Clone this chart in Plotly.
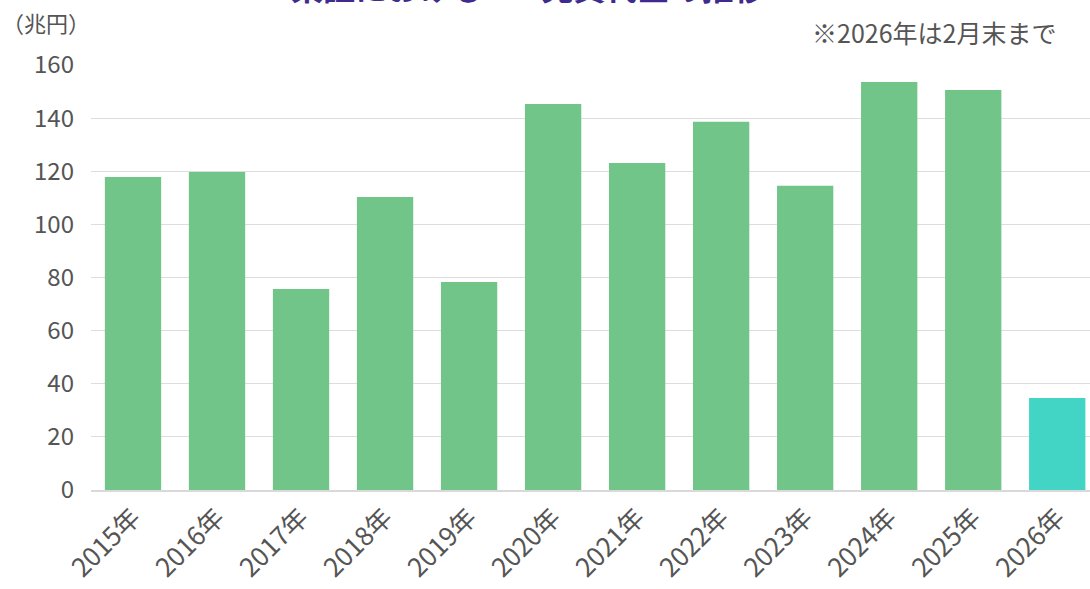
import plotly.graph_objects as go

years = ['2015年', '2016年', '2017年', '2018年', '2019年', '2020年',
         '2021年', '2022年', '2023年', '2024年', '2025年', '2026年']
values = [117.8, 119.7, 75.7, 110.3, 78.3, 145.3, 123.1, 138.6, 114.5, 153.6, 150.6, 34.6]
colors = ['#72c588'] * 11 + ['#42d4c4']

font = 'Noto Sans CJK JP'

fig = go.Figure(go.Bar(x=years, y=values, marker_color=colors,
                       marker_line_width=0, hoverinfo='x+y'))

fig.update_layout(
    width=1090, height=589,
    margin=dict(l=91, r=0, t=65, b=99),
    plot_bgcolor='white', paper_bgcolor='white',
    bargap=0.33, showlegend=False,
    font=dict(family=font, color='#555555', size=20),
    xaxis=dict(tickangle=-45, tickfont=dict(size=26, color='#555555'),
               range=[-0.5, 11.39],
               showline=True, linecolor='#d9d9d9', linewidth=2, ticks=''),
    yaxis=dict(range=[0, 160], dtick=20, gridcolor='#dddddd', gridwidth=1,
               zeroline=False, tickfont=dict(size=24, color='#555555'),
               ticklabelstandoff=16),
    annotations=[
        dict(text='東証におけるETF売買代金の推移', xref='paper', yref='paper',
             x=0.437, y=1.127, xanchor='center', yanchor='bottom', showarrow=False,
             font=dict(size=32, color='#3f2a8e', family=font, weight='bold')),
        dict(text='（兆円）', xref='paper', yref='paper', x=-0.091, y=1.10,
             xanchor='left', yanchor='middle', showarrow=False,
             font=dict(size=22, color='#555555')),
        dict(text='※2026年は2月末まで', xref='paper', yref='paper', x=0.968, y=1.078,
             xanchor='right', yanchor='middle', showarrow=False,
             font=dict(size=25, color='#555555')),
    ],
)

fig.write_html('out.html', config={'displayModeBar': False},
               post_script="document.body.style.margin='0';")
